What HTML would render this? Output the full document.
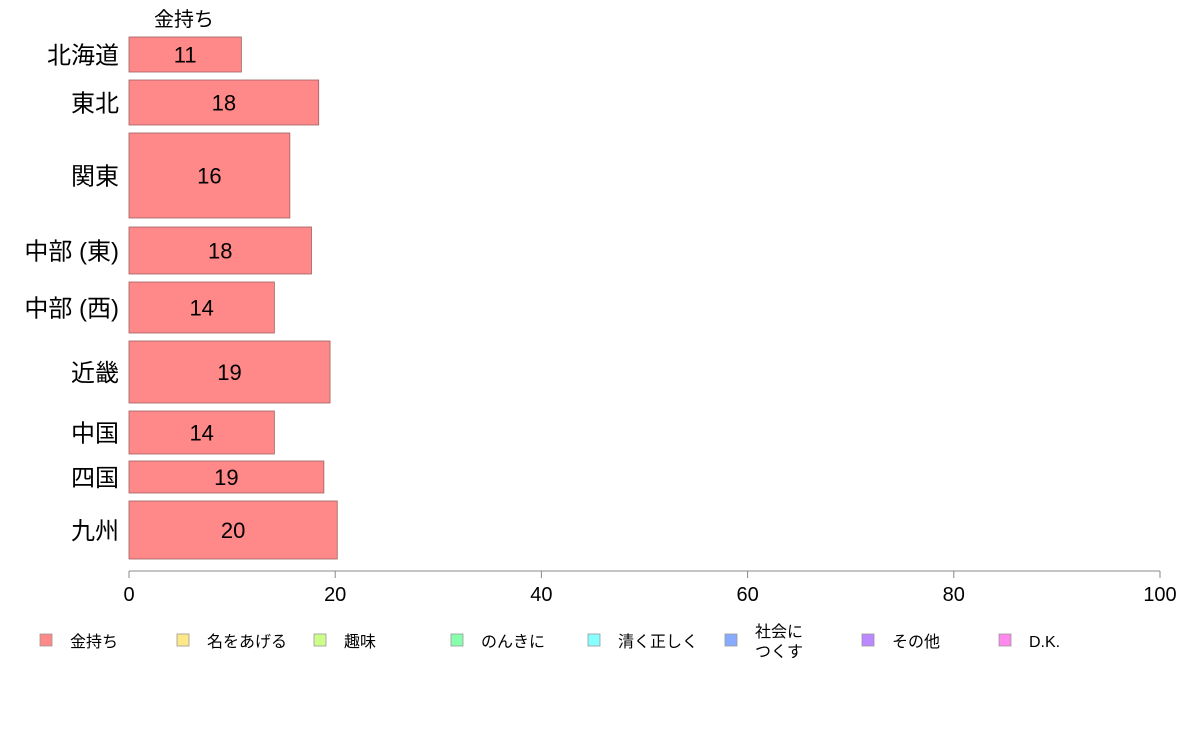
<!DOCTYPE html>
<html><head><meta charset="utf-8"><style>
body{margin:0;background:#fff;font-family:"Liberation Sans","Noto Sans CJK JP",sans-serif;}
</style></head><body>
<svg id="c" width="1188" height="736" style="display:block"></svg>
<script>
const regions=["北海道","東北","関東","中部 (東)","中部 (西)","近畿","中国","四国","九州"];
const values=[10.9,18.4,15.6,17.7,14.1,19.5,14.1,18.9,20.2];
const labels=["11","18","16","18","14","19","14","19","20"];
const bandTop=[37,80,133,227,282,341,411,461,501];
const bandBottom=[72,125,218,274,333,403,454,493,559];
const ticks=[0,20,40,60,80,100];
const legendNames=["金持ち","名をあげる","趣味","のんきに","清く正しく","社会に\nつくす","その他","D.K."];
const legendColors=["#ff8888","#ffe888","#ccff88","#88ffaa","#88ffff","#88aaff","#bb88ff","#ff88ee"];
const NS="http://www.w3.org/2000/svg",svg=document.getElementById('c');
const x=v=>129+v*10.31;
function mk(t,a,p){const e=document.createElementNS(NS,t);for(const k in a)e.setAttribute(k,a[k]);(p||svg).appendChild(e);return e;}
let t=mk('text',{x:184,y:26,'font-size':20,'text-anchor':'middle'});


t.textContent="金持ち";
regions.forEach((r,i)=>{
 const y0=bandTop[i],y1=bandBottom[i],cy=(y0+y1)/2;
 const b=mk('rect',{x:x(0),y:y0,width:x(values[i])-x(0),height:y1-y0,fill:'#ff8888',stroke:'#a06060','stroke-width':0.8});
 
 
 const v=mk('text',{x:(x(0)+x(values[i]))/2,y:cy+8,'font-size':22,'text-anchor':'middle'});
 
 
 v.textContent=labels[i];
 const l=mk('text',{x:119,y:cy+9,'font-size':24,'text-anchor':'end'});
 
 
 l.textContent=r;
});
const ax=mk('line',{x1:x(0),x2:x(100),y1:571,y2:571,stroke:'#888'});


ticks.forEach(v=>{
 mk('line',{x1:x(v),x2:x(v),y1:571,y2:578,stroke:'#888'});
 const tt=mk('text',{x:x(v),y:601,'font-size':20,'text-anchor':'middle'});
 
 
 tt.textContent=v;
});
legendNames.forEach((n,i)=>{
 const lx=40+i*137;
 const r=mk('rect',{x:lx,y:634,width:12,height:12,fill:legendColors[i],stroke:'#999','stroke-width':0.8});
 
 
 const parts=n.split('\n');
 parts.forEach((p,j)=>{
  const tt=mk('text',{x:lx+30,y:parts.length>1?637+j*20:647,'font-size':16});
  
  
  tt.textContent=p;
 });
});
</script>
</body></html>
